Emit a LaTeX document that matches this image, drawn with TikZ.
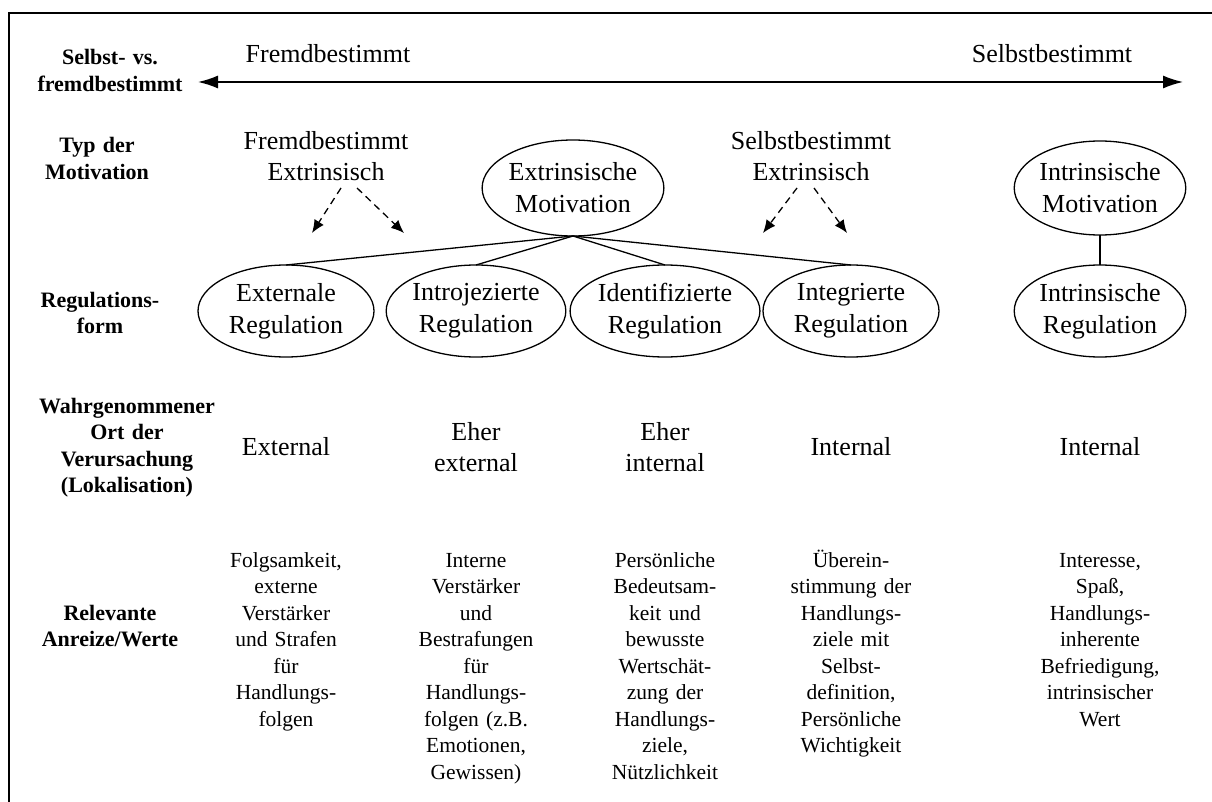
\documentclass[tikz,border=0pt]{standalone}
\usepackage{fontspec}
\setmainfont{Liberation Serif}
\usetikzlibrary{shapes.geometric,arrows.meta}
\begin{document}
\begin{tikzpicture}[x=1pt,y=-1pt,
  every node/.style={inner sep=0pt,outer sep=0pt},
  rowlabel/.style={font=\bfseries\fontsize{22}{26.5}\selectfont,text width=220pt,align=center,anchor=base},
  bigtext/.style={font=\fontsize{26}{31}\selectfont,text width=200pt,align=center,anchor=base},
  smalltext/.style={font=\fontsize{21.5}{26.5}\selectfont,text width=170pt,align=center,anchor=base},
  oval/.style={draw,ellipse,line width=1.3pt,minimum width=176pt,minimum height=92pt,
    font=\fontsize{26}{32}\selectfont,align=center},
  link/.style={line width=1.3pt},
  hint/.style={line width=1.3pt,dash pattern=on 7pt off 5pt,-{Latex[length=13pt,width=11pt]}},
  axis/.style={line width=1.6pt,{Latex[length=20pt,width=13pt]}-{Latex[length=20pt,width=13pt]}}
]
\useasboundingbox (0,0) rectangle (1212,802);

% frame (top and left edges)
\coordinate (fBL) at (9,802);
\coordinate (fTL) at (9,13);
\coordinate (fTR) at (1212,13);
\draw[line width=2pt] (fBL) -- (fTL) -- (fTR);

% row labels
\node[rowlabel] (lab1) at (110,65) {Selbst- vs.\\fremdbestimmt};
\node[rowlabel] (lab2) at (97,153) {Typ der\\Motivation};
\node[rowlabel] (lab3) at (100,307) {Regulations-\\form};
\node[rowlabel] (lab4) at (127,413) {Wahrgenommener\\Ort der\\Verursachung\\(Lokalisation)};
\node[rowlabel] (lab5) at (110,620) {Relevante\\Anreize/Werte};

% self-determination axis
\coordinate (aL) at (198,82);
\coordinate (aR) at (1183,82);
\draw[axis] (aL) -- (aR);
\node[bigtext] (tFremd) at (328,63) {Fremdbestimmt};
\node[bigtext] (tSelbst) at (1052,63) {Selbstbestimmt};

% type of motivation
\node[bigtext] (gF) at (326,150) {Fremdbestimmt\\Extrinsisch};
\node[bigtext] (gS) at (811,150) {Selbstbestimmt\\Extrinsisch};
\node[oval,minimum width=176pt,minimum height=96pt] (em) at (573,188) {Extrinsische\\Motivation};
\node[oval,minimum width=162pt,minimum height=94pt] (im) at (1100,188) {Intrinsische\\Motivation};

% dashed hints
\coordinate (gF1s) at (341,188); \coordinate (gF1e) at (312,233);
\coordinate (gF2s) at (357,188); \coordinate (gF2e) at (404,233);
\coordinate (gS1s) at (797,188); \coordinate (gS1e) at (763,233);
\coordinate (gS2s) at (814,188); \coordinate (gS2e) at (847,233);
\draw[hint] (gF1s) -- (gF1e);
\draw[hint] (gF2s) -- (gF2e);
\draw[hint] (gS1s) -- (gS1e);
\draw[hint] (gS2s) -- (gS2e);

% regulation styles
\node[oval] (r1) at (286,311) {Externale\\Regulation};
\node[oval] (r2) at (476,311) {Introjezierte\\Regulation};
\node[oval] (r3) at (665,311) {Identifizierte\\Regulation};
\node[oval] (r4) at (851,311) {Integrierte\\Regulation};
\node[oval,minimum width=162pt] (r5) at (1100,311) {Intrinsische\\Regulation};

\draw[link] (em.south) -- (r1.north);
\draw[link] (em.south) -- (r2.north);
\draw[link] (em.south) -- (r3.north);
\draw[link] (em.south) -- (r4.north);
\draw[link] (im.south) -- (r5.north);

% perceived locus of causality
\node[bigtext] (o1) at (286,455) {External};
\node[bigtext] (o2) at (476,440) {Eher\\external};
\node[bigtext] (o3) at (665,440) {Eher\\internal};
\node[bigtext] (o4) at (851,455) {Internal};
\node[bigtext] (o5) at (1100,455) {Internal};

% relevant incentives / values
\node[smalltext] (w1) at (286,567) {Folgsamkeit,\\externe\\Verstärker\\und Strafen\\für\\Handlungs-\\folgen};
\node[smalltext] (w2) at (476,567) {Interne\\Verstärker\\und\\Bestrafungen\\für\\Handlungs-\\folgen (z.B.\\Emotionen,\\Gewissen)};
\node[smalltext] (w3) at (665,567) {Persönliche\\Bedeutsam-\\keit und\\bewusste\\Wertschät-\\zung der\\Handlungs-\\ziele,\\Nützlichkeit};
\node[smalltext] (w4) at (851,567) {Überein-\\stimmung der\\Handlungs-\\ziele mit\\Selbst-\\definition,\\Persönliche\\Wichtigkeit};
\node[smalltext] (w5) at (1100,567) {Interesse,\\Spaß,\\Handlungs-\\inherente\\Befriedigung,\\intrinsischer\\Wert};
\end{tikzpicture}
\end{document}
